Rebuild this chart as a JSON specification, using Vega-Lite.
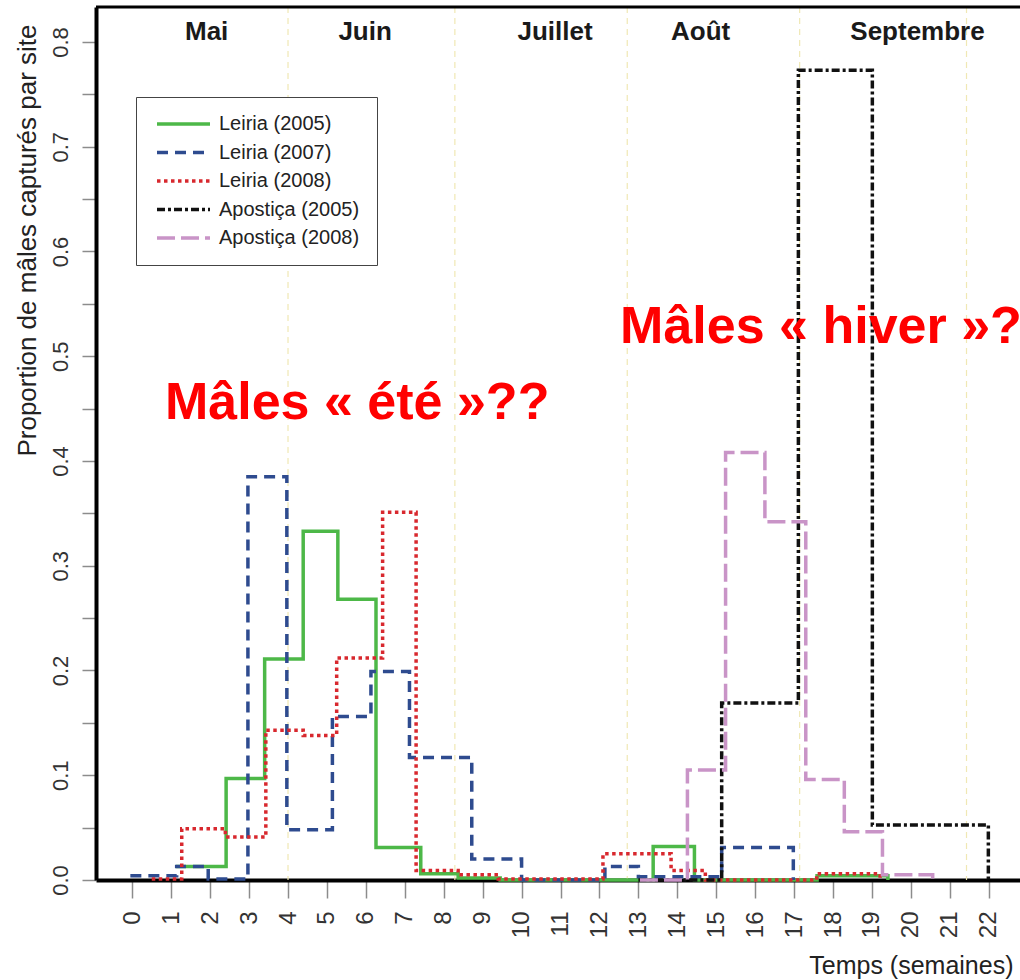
{
  "$schema": "https://vega.github.io/schema/vega-lite/v6.json",
  "width": 924,
  "height": 873,
  "autosize": {"type": "none"},
  "padding": {"left": 96, "top": 7, "right": 0, "bottom": 100},
  "background": "white",
  "config": {"view": {"stroke": null}, "font": "Liberation Sans"},
  "datasets": {
    "series": [
      {"site": "Leiria (2005)", "week": 1.12, "value": 0.013},
      {"site": "Leiria (2005)", "week": 2.41, "value": 0.097},
      {"site": "Leiria (2005)", "week": 3.40, "value": 0.211},
      {"site": "Leiria (2005)", "week": 4.39, "value": 0.333},
      {"site": "Leiria (2005)", "week": 5.28, "value": 0.268},
      {"site": "Leiria (2005)", "week": 6.26, "value": 0.031},
      {"site": "Leiria (2005)", "week": 7.41, "value": 0.006},
      {"site": "Leiria (2005)", "week": 8.37, "value": 0.002},
      {"site": "Leiria (2005)", "week": 9.45, "value": 0},
      {"site": "Leiria (2005)", "week": 13.38, "value": 0.032},
      {"site": "Leiria (2005)", "week": 14.44, "value": 0},
      {"site": "Leiria (2005)", "week": 17.59, "value": 0.004},
      {"site": "Leiria (2005)", "week": 19.41, "value": 0},
      {"site": "Leiria (2007)", "week": -0.05, "value": 0.004},
      {"site": "Leiria (2007)", "week": 1.14, "value": 0.013},
      {"site": "Leiria (2007)", "week": 1.95, "value": 0.001},
      {"site": "Leiria (2007)", "week": 2.97, "value": 0.385},
      {"site": "Leiria (2007)", "week": 3.97, "value": 0.048},
      {"site": "Leiria (2007)", "week": 5.14, "value": 0.156},
      {"site": "Leiria (2007)", "week": 6.13, "value": 0.199},
      {"site": "Leiria (2007)", "week": 7.12, "value": 0.117},
      {"site": "Leiria (2007)", "week": 8.72, "value": 0.020},
      {"site": "Leiria (2007)", "week": 10.0, "value": 0},
      {"site": "Leiria (2007)", "week": 12.14, "value": 0.013},
      {"site": "Leiria (2007)", "week": 13.0, "value": 0.003},
      {"site": "Leiria (2007)", "week": 15.14, "value": 0.031},
      {"site": "Leiria (2007)", "week": 16.98, "value": 0},
      {"site": "Leiria (2008)", "week": 0.50, "value": 0.001},
      {"site": "Leiria (2008)", "week": 1.27, "value": 0.049},
      {"site": "Leiria (2008)", "week": 2.39, "value": 0.041},
      {"site": "Leiria (2008)", "week": 3.43, "value": 0.143},
      {"site": "Leiria (2008)", "week": 4.39, "value": 0.138},
      {"site": "Leiria (2008)", "week": 5.25, "value": 0.212},
      {"site": "Leiria (2008)", "week": 6.43, "value": 0.351},
      {"site": "Leiria (2008)", "week": 7.29, "value": 0.009},
      {"site": "Leiria (2008)", "week": 8.37, "value": 0.005},
      {"site": "Leiria (2008)", "week": 9.40, "value": 0.001},
      {"site": "Leiria (2008)", "week": 12.09, "value": 0.025},
      {"site": "Leiria (2008)", "week": 13.84, "value": 0.009},
      {"site": "Leiria (2008)", "week": 14.72, "value": 0},
      {"site": "Leiria (2008)", "week": 17.58, "value": 0.006},
      {"site": "Leiria (2008)", "week": 19.21, "value": 0},
      {"site": "Apostiça (2005)", "week": 13.0, "value": 0},
      {"site": "Apostiça (2005)", "week": 15.14, "value": 0.169},
      {"site": "Apostiça (2005)", "week": 17.11, "value": 0.773},
      {"site": "Apostiça (2005)", "week": 19.01, "value": 0.0525},
      {"site": "Apostiça (2005)", "week": 21.99, "value": 0},
      {"site": "Apostiça (2008)", "week": 13.04, "value": 0},
      {"site": "Apostiça (2008)", "week": 14.26, "value": 0.105},
      {"site": "Apostiça (2008)", "week": 15.24, "value": 0.408},
      {"site": "Apostiça (2008)", "week": 16.25, "value": 0.342},
      {"site": "Apostiça (2008)", "week": 17.30, "value": 0.096},
      {"site": "Apostiça (2008)", "week": 18.29, "value": 0.046},
      {"site": "Apostiça (2008)", "week": 19.27, "value": 0.005},
      {"site": "Apostiça (2008)", "week": 20.56, "value": 0}
    ],
    "bounds": [
      {"week": 4.0}, {"week": 8.286}, {"week": 12.714}, {"week": 17.143}, {"week": 21.429}
    ],
    "months": [
      {"month": "Mai", "week": 1.91},
      {"month": "Juin", "week": 5.98},
      {"month": "Juillet", "week": 10.86},
      {"month": "Août", "week": 14.6},
      {"month": "Septembre", "week": 20.17}
    ]
  },
  "layer": [
    {
      "data": {"name": "bounds"},
      "mark": {"type": "rule", "color": "#f0e8b4", "strokeWidth": 1.2, "strokeDash": [6, 5]},
      "encoding": {
        "x": {"field": "week", "type": "quantitative"}
      }
    },
    {
      "data": {"name": "series"},
      "mark": {"type": "line", "interpolate": "step-after", "strokeWidth": 3.5, "strokeCap": "butt"},
      "encoding": {
        "x": {
          "field": "week", "type": "quantitative",
          "scale": {"domain": [-0.9325, 22.803], "nice": false, "zero": false},
          "axis": {
            "title": "Temps (semaines)",
            "values": [0,1,2,3,4,5,6,7,8,9,10,11,12,13,14,15,16,17,18,19,20,21,22],
            "format": "d",
            "grid": false,
            "labelAngle": -90,
            "labelFontSize": 24,
            "labelColor": "#333333",
            "labelPadding": 13,
            "labelFlush": false,
            "labelOverlap": false,
            "tickSize": 18,
            "tickColor": "#8c8c8c",
            "tickWidth": 1.5,
            "domainColor": "#000000",
            "domainWidth": 4,
            "titleFontSize": 25,
            "titleFontWeight": "normal",
            "titleColor": "#222222",
            "titleX": 917,
            "titleY": 85,
            "titleAlign": "right",
            "titleBaseline": "middle"
          }
        },
        "y": {
          "field": "value", "type": "quantitative",
          "scale": {"domain": [0, 0.8334], "nice": false, "zero": false},
          "axis": {
            "title": "Proportion de mâles capturés par site",
            "values": [0,0.05,0.1,0.15,0.2,0.25,0.3,0.35,0.4,0.45,0.5,0.55,0.6,0.65,0.7,0.75,0.8],
            "labelExpr": "round(datum.value*100) % 10 == 0 ? format(datum.value, '.1f') : ''",
            "grid": false,
            "labelAngle": -90,
            "labelFontSize": 22,
            "labelColor": "#333333",
            "labelPadding": 10,
            "labelOverlap": false,
            "tickSize": 14,
            "tickColor": "#8c8c8c",
            "tickWidth": 1.5,
            "domainColor": "#000000",
            "domainWidth": 4,
            "titleFontSize": 26,
            "titleFontWeight": "normal",
            "titleColor": "#222222",
            "titleAngle": -90,
            "titleX": -69,
            "titleY": 233,
            "titleAlign": "center",
            "titleBaseline": "middle"
          }
        },
        "color": {
          "field": "site", "type": "nominal",
          "scale": {
            "domain": ["Leiria (2005)", "Leiria (2007)", "Leiria (2008)", "Apostiça (2005)", "Apostiça (2008)"],
            "range": ["#4db848", "#2e4b8f", "#d8282e", "#111111", "#c994c7"]
          },
          "legend": {
            "title": null,
            "orient": "none",
            "legendX": 40,
            "legendY": 90,
            "symbolType": "stroke",
            "symbolSize": 2809,
            "symbolStrokeWidth": 3.5,
            "symbolOffset": 2,
            "clipHeight": 20,
            "labelFontSize": 20,
            "labelColor": "#222222",
            "labelLimit": 300,
            "labelOffset": 7,
            "rowPadding": 8.5,
            "padding": 17,
            "strokeColor": "#444444",
            "fillColor": "#ffffff"
          }
        },
        "strokeDash": {
          "field": "site", "type": "nominal",
          "scale": {
            "domain": ["Leiria (2005)", "Leiria (2007)", "Leiria (2008)", "Apostiça (2005)", "Apostiça (2008)"],
            "range": [[1, 0], [11, 7], [3.5, 3.5], [8, 3, 3, 3], [18, 6]]
          }
        }
      }
    },
    {
      "data": {"values": [{}]},
      "mark": {"type": "rule", "color": "#000000", "strokeWidth": 3},
      "encoding": {"y": {"datum": 0.8334, "type": "quantitative"}}
    },
    {
      "data": {"name": "months"},
      "mark": {"type": "text", "fontSize": 26, "fontWeight": "bold", "color": "#1a1a1a", "align": "center", "baseline": "middle"},
      "encoding": {
        "x": {"field": "week", "type": "quantitative"},
        "y": {"datum": 0.8095, "type": "quantitative"},
        "text": {"field": "month"}
      }
    },
    {
      "data": {"values": [{}]},
      "mark": {"type": "text", "text": "Mâles « été »??", "fontSize": 52, "fontWeight": "bold", "color": "#ff0000", "align": "left", "baseline": "middle"},
      "encoding": {
        "x": {"datum": 0.84, "type": "quantitative"},
        "y": {"datum": 0.455, "type": "quantitative"}
      }
    },
    {
      "data": {"values": [{}]},
      "mark": {"type": "text", "text": "Mâles « hiver »??", "fontSize": 52, "fontWeight": "bold", "color": "#ff0000", "align": "left", "baseline": "middle"},
      "encoding": {
        "x": {"datum": 12.53, "type": "quantitative"},
        "y": {"datum": 0.528, "type": "quantitative"}
      }
    }
  ]
}
